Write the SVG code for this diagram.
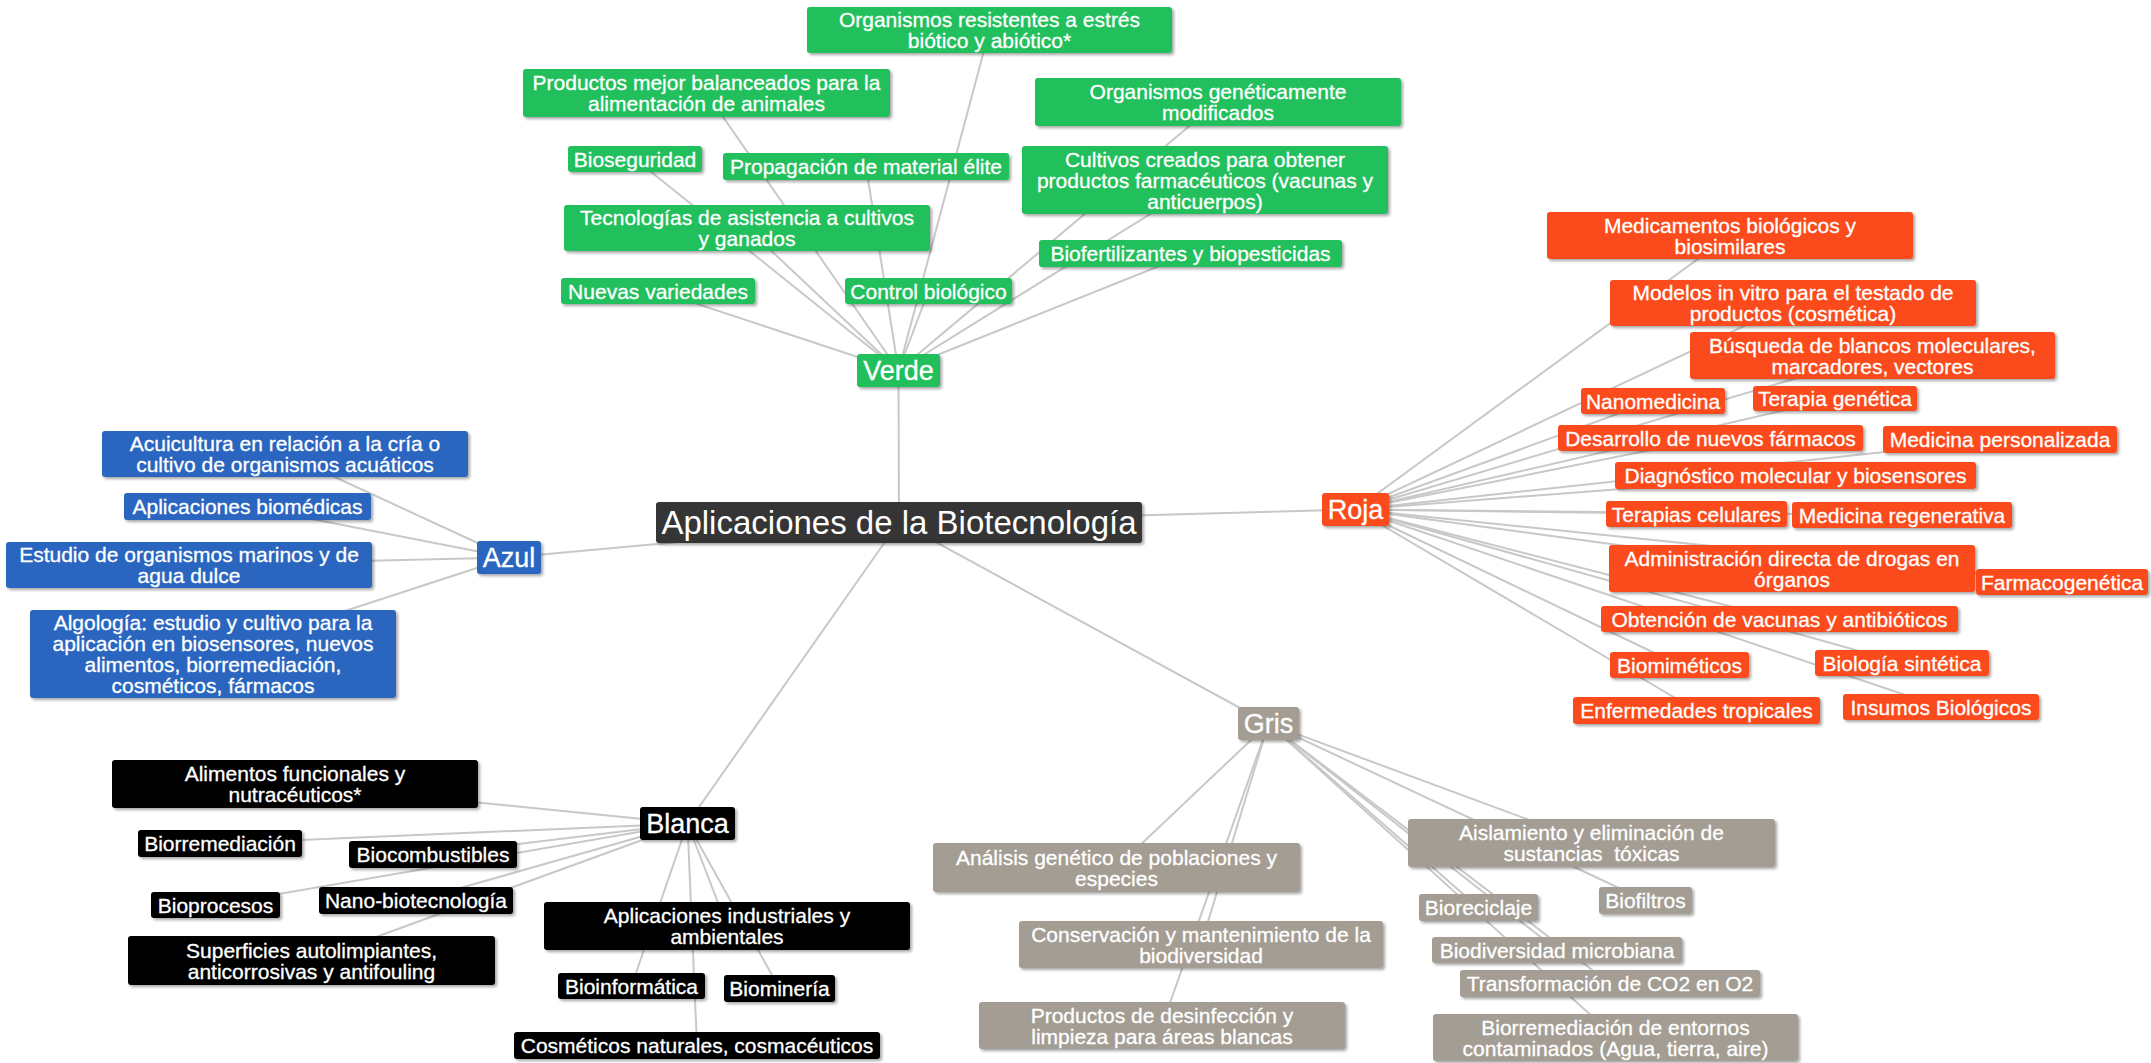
<svg xmlns="http://www.w3.org/2000/svg" width="2151" height="1063" viewBox="0 0 2151 1063">
<defs>
<filter id="sh" x="-10%" y="-30%" width="120%" height="160%"><feDropShadow dx="2" dy="2" stdDeviation="1.5" flood-color="#000" flood-opacity="0.35"/></filter>
<style>
.n rect{filter:url(#sh)}
.n text{font-family:"Liberation Sans",Arial,sans-serif;font-size:21px;fill:#fff;stroke:#fff;stroke-width:0.3;text-anchor:middle}
.p text{font-size:27px}
.g rect{fill:#20bf5d}
.b rect{fill:#2966c0}
.r rect{fill:#fb4b1e}
.k rect{fill:#000}
.s rect{fill:#a39d93}
.c rect{fill:#363434}
.c text{font-size:33px;stroke-width:0}
#connectors line{stroke:#c8c8c8;stroke-width:2}
</style>
</defs>
<rect width="2151" height="1063" fill="#fff"/>
<g id="connectors">
<line x1="899" y1="522" x2="898.5" y2="370.5"/>
<line x1="899" y1="522" x2="509" y2="557.5"/>
<line x1="899" y1="522" x2="1355.5" y2="509.5"/>
<line x1="899" y1="522" x2="687.5" y2="823.5"/>
<line x1="899" y1="522" x2="1268.5" y2="723.5"/>
<line x1="898.5" y1="370.5" x2="989.5" y2="30"/>
<line x1="898.5" y1="370.5" x2="706.5" y2="93"/>
<line x1="898.5" y1="370.5" x2="1218" y2="102"/>
<line x1="898.5" y1="370.5" x2="635" y2="159"/>
<line x1="898.5" y1="370.5" x2="866" y2="166.5"/>
<line x1="898.5" y1="370.5" x2="1205" y2="180"/>
<line x1="898.5" y1="370.5" x2="747" y2="228"/>
<line x1="898.5" y1="370.5" x2="1190.5" y2="253.5"/>
<line x1="898.5" y1="370.5" x2="658" y2="291"/>
<line x1="898.5" y1="370.5" x2="928.5" y2="291"/>
<line x1="509" y1="557.5" x2="285" y2="454"/>
<line x1="509" y1="557.5" x2="247.5" y2="506.5"/>
<line x1="509" y1="557.5" x2="189" y2="565"/>
<line x1="509" y1="557.5" x2="213" y2="654"/>
<line x1="1355.5" y1="509.5" x2="1730" y2="235.5"/>
<line x1="1355.5" y1="509.5" x2="1793" y2="303"/>
<line x1="1355.5" y1="509.5" x2="1872.5" y2="355.5"/>
<line x1="1355.5" y1="509.5" x2="1653" y2="401"/>
<line x1="1355.5" y1="509.5" x2="1835" y2="398.5"/>
<line x1="1355.5" y1="509.5" x2="1710.5" y2="438"/>
<line x1="1355.5" y1="509.5" x2="2000" y2="439.5"/>
<line x1="1355.5" y1="509.5" x2="1795.5" y2="475.5"/>
<line x1="1355.5" y1="509.5" x2="1696.5" y2="514"/>
<line x1="1355.5" y1="509.5" x2="1902" y2="515"/>
<line x1="1355.5" y1="509.5" x2="1792" y2="568.5"/>
<line x1="1355.5" y1="509.5" x2="2062" y2="582"/>
<line x1="1355.5" y1="509.5" x2="1779.5" y2="619"/>
<line x1="1355.5" y1="509.5" x2="1679.5" y2="665"/>
<line x1="1355.5" y1="509.5" x2="1902" y2="663"/>
<line x1="1355.5" y1="509.5" x2="1696.5" y2="710.5"/>
<line x1="1355.5" y1="509.5" x2="1941" y2="707"/>
<line x1="687.5" y1="823.5" x2="295" y2="784"/>
<line x1="687.5" y1="823.5" x2="220" y2="843.5"/>
<line x1="687.5" y1="823.5" x2="433" y2="854.5"/>
<line x1="687.5" y1="823.5" x2="215.5" y2="905"/>
<line x1="687.5" y1="823.5" x2="416" y2="900.5"/>
<line x1="687.5" y1="823.5" x2="311.5" y2="960.5"/>
<line x1="687.5" y1="823.5" x2="727" y2="926"/>
<line x1="687.5" y1="823.5" x2="631.5" y2="986"/>
<line x1="687.5" y1="823.5" x2="779.5" y2="988.5"/>
<line x1="687.5" y1="823.5" x2="697" y2="1045.5"/>
<line x1="1268.5" y1="723.5" x2="1116.5" y2="867.5"/>
<line x1="1268.5" y1="723.5" x2="1201" y2="944.5"/>
<line x1="1268.5" y1="723.5" x2="1162" y2="1025.5"/>
<line x1="1268.5" y1="723.5" x2="1591.5" y2="843"/>
<line x1="1268.5" y1="723.5" x2="1478.5" y2="907.5"/>
<line x1="1268.5" y1="723.5" x2="1645.5" y2="900.5"/>
<line x1="1268.5" y1="723.5" x2="1557" y2="950"/>
<line x1="1268.5" y1="723.5" x2="1610" y2="983.5"/>
<line x1="1268.5" y1="723.5" x2="1615.5" y2="1037.5"/>
</g>

<g id="center" class="n c"><rect x="656" y="502" width="486" height="41" rx="3"/><text x="899" y="534">Aplicaciones de la Biotecnología</text></g>

<g id="verde" class="n g p"><rect x="857" y="354" width="83" height="33" rx="3"/><text x="898.5" y="380">Verde</text></g>
<g id="g1" class="n g"><rect x="807" y="7" width="365" height="46" rx="3"/><text x="989.5" y="27"><tspan x="989.5">Organismos resistentes a estrés</tspan><tspan x="989.5" dy="21">biótico y abiótico*</tspan></text></g>
<g id="g2" class="n g"><rect x="523" y="69" width="367" height="48" rx="3"/><text x="706.5" y="90"><tspan x="706.5">Productos mejor balanceados para la</tspan><tspan x="706.5" dy="21">alimentación de animales</tspan></text></g>
<g id="g3" class="n g"><rect x="1035" y="78" width="366" height="48" rx="3"/><text x="1218" y="99"><tspan x="1218">Organismos genéticamente</tspan><tspan x="1218" dy="21">modificados</tspan></text></g>
<g id="g4" class="n g"><rect x="568" y="146" width="134" height="26" rx="3"/><text x="635" y="166.5">Bioseguridad</text></g>
<g id="g5" class="n g"><rect x="723" y="153" width="286" height="27" rx="3"/><text x="866" y="174">Propagación de material élite</text></g>
<g id="g6" class="n g"><rect x="1022" y="146" width="366" height="68" rx="3"/><text x="1205" y="166.5"><tspan x="1205">Cultivos creados para obtener</tspan><tspan x="1205" dy="21">productos farmacéuticos (vacunas y</tspan><tspan x="1205" dy="21">anticuerpos)</tspan></text></g>
<g id="g7" class="n g"><rect x="564" y="205" width="366" height="46" rx="3"/><text x="747" y="225"><tspan x="747">Tecnologías de asistencia a cultivos</tspan><tspan x="747" dy="21">y ganados</tspan></text></g>
<g id="g8" class="n g"><rect x="1039" y="240" width="303" height="27" rx="3"/><text x="1190.5" y="261">Biofertilizantes y biopesticidas</text></g>
<g id="g9" class="n g"><rect x="561" y="278" width="194" height="26" rx="3"/><text x="658" y="298.5">Nuevas variedades</text></g>
<g id="g10" class="n g"><rect x="845" y="278" width="167" height="26" rx="3"/><text x="928.5" y="298.5">Control biológico</text></g>

<g id="azul" class="n b p"><rect x="477" y="541" width="64" height="33" rx="3"/><text x="509" y="567">Azul</text></g>
<g id="b1" class="n b"><rect x="102" y="431" width="366" height="46" rx="3"/><text x="285" y="451"><tspan x="285">Acuicultura en relación a la cría o</tspan><tspan x="285" dy="21">cultivo de organismos acuáticos</tspan></text></g>
<g id="b2" class="n b"><rect x="124" y="493" width="247" height="27" rx="3"/><text x="247.5" y="514">Aplicaciones biomédicas</text></g>
<g id="b3" class="n b"><rect x="6" y="542" width="366" height="46" rx="3"/><text x="189" y="562"><tspan x="189">Estudio de organismos marinos y de</tspan><tspan x="189" dy="21">agua dulce</tspan></text></g>
<g id="b4" class="n b"><rect x="30" y="610" width="366" height="88" rx="3"/><text x="213" y="630"><tspan x="213">Algología: estudio y cultivo para la</tspan><tspan x="213" dy="21">aplicación en biosensores, nuevos</tspan><tspan x="213" dy="21">alimentos, biorremediación,</tspan><tspan x="213" dy="21">cosméticos, fármacos</tspan></text></g>

<g id="roja" class="n r p"><rect x="1322" y="493" width="67" height="33" rx="3"/><text x="1355.5" y="519">Roja</text></g>
<g id="r1" class="n r"><rect x="1547" y="212" width="366" height="47" rx="3"/><text x="1730" y="232.5"><tspan x="1730">Medicamentos biológicos y</tspan><tspan x="1730" dy="21">biosimilares</tspan></text></g>
<g id="r2" class="n r"><rect x="1610" y="280" width="366" height="46" rx="3"/><text x="1793" y="300"><tspan x="1793">Modelos in vitro para el testado de</tspan><tspan x="1793" dy="21">productos (cosmética)</tspan></text></g>
<g id="r3" class="n r"><rect x="1690" y="332" width="365" height="47" rx="3"/><text x="1872.5" y="352.5"><tspan x="1872.5">Búsqueda de blancos moleculares,</tspan><tspan x="1872.5" dy="21">marcadores, vectores</tspan></text></g>
<g id="r4" class="n r"><rect x="1581" y="388" width="144" height="26" rx="3"/><text x="1653" y="408.5">Nanomedicina</text></g>
<g id="r5" class="n r"><rect x="1753" y="386" width="164" height="25" rx="3"/><text x="1835" y="406">Terapia genética</text></g>
<g id="r6" class="n r"><rect x="1558" y="425" width="305" height="26" rx="3"/><text x="1710.5" y="445.5">Desarrollo de nuevos fármacos</text></g>
<g id="r7" class="n r"><rect x="1883" y="426" width="234" height="27" rx="3"/><text x="2000" y="447">Medicina personalizada</text></g>
<g id="r8" class="n r"><rect x="1615" y="462" width="361" height="27" rx="3"/><text x="1795.5" y="483">Diagnóstico molecular y biosensores</text></g>
<g id="r9" class="n r"><rect x="1606" y="501" width="181" height="26" rx="3"/><text x="1696.5" y="521.5">Terapias celulares</text></g>
<g id="r10" class="n r"><rect x="1792" y="502" width="220" height="26" rx="3"/><text x="1902" y="522.5">Medicina regenerativa</text></g>
<g id="r11" class="n r"><rect x="1609" y="545" width="366" height="47" rx="3"/><text x="1792" y="565.5"><tspan x="1792">Administración directa de drogas en</tspan><tspan x="1792" dy="21">órganos</tspan></text></g>
<g id="r12" class="n r"><rect x="1976" y="569" width="172" height="26" rx="3"/><text x="2062" y="589.5">Farmacogenética</text></g>
<g id="r13" class="n r"><rect x="1601" y="606" width="357" height="26" rx="3"/><text x="1779.5" y="626.5">Obtención de vacunas y antibióticos</text></g>
<g id="r14" class="n r"><rect x="1610" y="652" width="139" height="26" rx="3"/><text x="1679.5" y="672.5">Biomiméticos</text></g>
<g id="r15" class="n r"><rect x="1815" y="650" width="174" height="26" rx="3"/><text x="1902" y="670.5">Biología sintética</text></g>
<g id="r16" class="n r"><rect x="1573" y="697" width="247" height="27" rx="3"/><text x="1696.5" y="718">Enfermedades tropicales</text></g>
<g id="r17" class="n r"><rect x="1843" y="694" width="196" height="26" rx="3"/><text x="1941" y="714.5">Insumos Biológicos</text></g>

<g id="blanca" class="n k p"><rect x="640" y="807" width="95" height="33" rx="3"/><text x="687.5" y="833">Blanca</text></g>
<g id="k1" class="n k"><rect x="112" y="760" width="366" height="48" rx="3"/><text x="295" y="781"><tspan x="295">Alimentos funcionales y</tspan><tspan x="295" dy="21">nutracéuticos*</tspan></text></g>
<g id="k2" class="n k"><rect x="138" y="830" width="164" height="27" rx="3"/><text x="220" y="851">Biorremediación</text></g>
<g id="k3" class="n k"><rect x="349" y="841" width="168" height="27" rx="3"/><text x="433" y="862">Biocombustibles</text></g>
<g id="k4" class="n k"><rect x="151" y="892" width="129" height="26" rx="3"/><text x="215.5" y="912.5">Bioprocesos</text></g>
<g id="k5" class="n k"><rect x="319" y="887" width="194" height="27" rx="3"/><text x="416" y="908">Nano-biotecnología</text></g>
<g id="k6" class="n k"><rect x="128" y="936" width="367" height="49" rx="3"/><text x="311.5" y="957.5"><tspan x="311.5">Superficies autolimpiantes,</tspan><tspan x="311.5" dy="21">anticorrosivas y antifouling</tspan></text></g>
<g id="k7" class="n k"><rect x="544" y="902" width="366" height="48" rx="3"/><text x="727" y="923"><tspan x="727">Aplicaciones industriales y</tspan><tspan x="727" dy="21">ambientales</tspan></text></g>
<g id="k8" class="n k"><rect x="558" y="973" width="147" height="26" rx="3"/><text x="631.5" y="993.5">Bioinformática</text></g>
<g id="k9" class="n k"><rect x="724" y="975" width="111" height="27" rx="3"/><text x="779.5" y="996">Biominería</text></g>
<g id="k10" class="n k"><rect x="514" y="1032" width="366" height="27" rx="3"/><text x="697" y="1053">Cosméticos naturales, cosmacéuticos</text></g>

<g id="gris" class="n s p"><rect x="1238" y="707" width="61" height="33" rx="3"/><text x="1268.5" y="733">Gris</text></g>
<g id="s1" class="n s"><rect x="933" y="843" width="367" height="49" rx="3"/><text x="1116.5" y="864.5"><tspan x="1116.5">Análisis genético de poblaciones y</tspan><tspan x="1116.5" dy="21">especies</tspan></text></g>
<g id="s2" class="n s"><rect x="1019" y="921" width="364" height="47" rx="3"/><text x="1201" y="941.5"><tspan x="1201">Conservación y mantenimiento de la</tspan><tspan x="1201" dy="21">biodiversidad</tspan></text></g>
<g id="s3" class="n s"><rect x="979" y="1002" width="366" height="47" rx="3"/><text x="1162" y="1022.5"><tspan x="1162">Productos de desinfección y</tspan><tspan x="1162" dy="21">limpieza para áreas blancas</tspan></text></g>
<g id="s4" class="n s"><rect x="1408" y="819" width="367" height="48" rx="3"/><text x="1591.5" y="840"><tspan x="1591.5">Aislamiento y eliminación de</tspan><tspan x="1591.5" dy="21" style="white-space:pre">sustancias  tóxicas</tspan></text></g>
<g id="s5" class="n s"><rect x="1419" y="894" width="119" height="27" rx="3"/><text x="1478.5" y="915">Bioreciclaje</text></g>
<g id="s6" class="n s"><rect x="1599" y="887" width="93" height="27" rx="3"/><text x="1645.5" y="908">Biofiltros</text></g>
<g id="s7" class="n s"><rect x="1432" y="937" width="250" height="26" rx="3"/><text x="1557" y="957.5">Biodiversidad microbiana</text></g>
<g id="s8" class="n s"><rect x="1460" y="970" width="300" height="27" rx="3"/><text x="1610" y="991">Transformación de CO2 en O2</text></g>
<g id="s9" class="n s"><rect x="1433" y="1014" width="365" height="47" rx="3"/><text x="1615.5" y="1034.5"><tspan x="1615.5">Biorremediación de entornos</tspan><tspan x="1615.5" dy="21">contaminados (Agua, tierra, aire)</tspan></text></g>
</svg>
